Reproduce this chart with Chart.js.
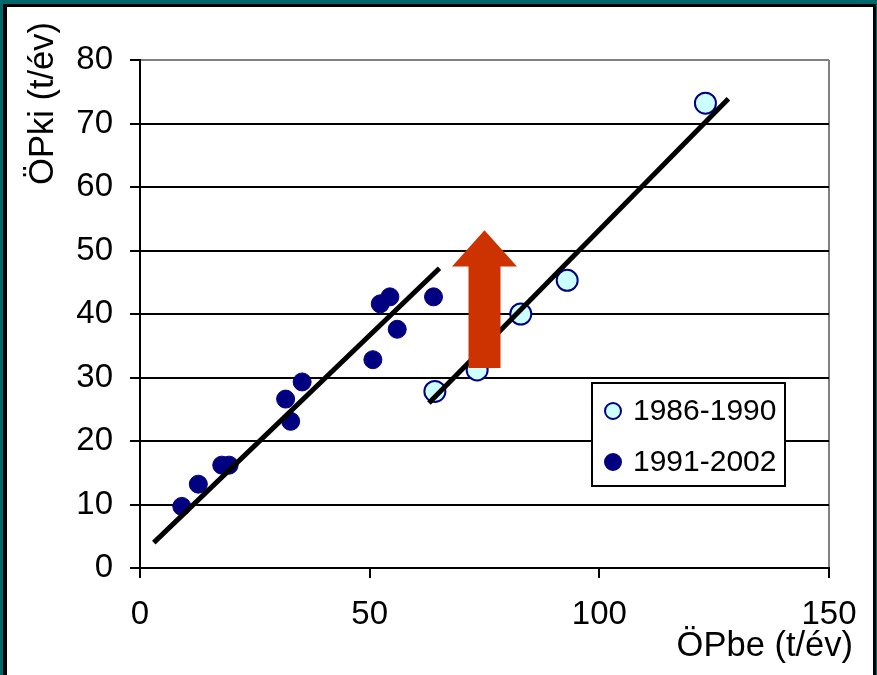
<!DOCTYPE html>
<html>
<head>
<meta charset="utf-8">
<script src="https://cdn.jsdelivr.net/npm/chart.js@4/dist/chart.umd.min.js"></script>
<style>
  html, body { margin: 0; padding: 0; background: #00686a; }
  #wrap { width: 877px; height: 675px; position: relative; }
</style>
</head>
<body>
<div id="wrap"><canvas id="chart" width="877" height="675"></canvas></div>
<script>
// 1986-1990 (light points)
const x_1986 = [64.2, 73.4, 82.9, 93.0, 123.1]
const y_1986 = [27.8, 31.2, 40.0, 45.3, 73.2]

// 1991-2002 (dark points)
const x_1991 = [9.1, 12.7, 17.8, 19.4, 31.7, 32.8, 35.3, 50.7, 52.3, 54.4, 56.0, 63.9]
const y_1991 = [9.7, 13.2, 16.2, 16.2, 26.6, 23.1, 29.3, 32.8, 41.6, 42.7, 37.6, 42.7]

// trend lines (end points)
const trend1_x = [3.0, 65.2]
const trend1_y = [4.0, 47.2]
const trend2_x = [62.9, 128.1]
const trend2_y = [26.0, 73.9]

// arrow: x position, from -> to (y values)
const arrow_x = 75
const arrow_y = [31.5, 47.5, 53.2]

const series_labels = ['1986-1990', '1991-2002']
const x_ticks = [0, 50, 100, 150]
const y_ticks = [0, 10, 20, 30, 40, 50, 60, 70, 80]

const FONT = '"Liberation Sans", Arial, sans-serif'

function toPoints(xs, ys) {
    return xs.map((x, i) => ({ x: x, y: ys[i] }))
}

const frame = {
    id: 'frame',
    beforeDraw(chart) {
        const c = chart.ctx
        c.save()
        c.fillStyle = '#00686a'
        c.fillRect(0, 0, 877, 675)
        c.fillStyle = '#000'
        c.fillRect(3, 4, 873, 675)
        c.fillStyle = '#fff'
        c.fillRect(7, 7, 866, 675)
        c.restore()
    }
}

const extras = {
    id: 'extras',
    afterDatasetsDraw(chart) {
        const c = chart.ctx
        const xs = chart.scales.x, ys = chart.scales.y
        // arrow
        const cx = xs.getPixelForValue(arrow_x)
        const yb = ys.getPixelForValue(arrow_y[0])
        const yh = ys.getPixelForValue(arrow_y[1])
        const yt = ys.getPixelForValue(arrow_y[2])
        c.save()
        c.fillStyle = '#cc3300'
        c.beginPath()
        c.moveTo(cx - 16, yb)
        c.lineTo(cx - 16, yh)
        c.lineTo(cx - 32.5, yh)
        c.lineTo(cx, yt)
        c.lineTo(cx + 32.5, yh)
        c.lineTo(cx + 16, yh)
        c.lineTo(cx + 16, yb)
        c.closePath()
        c.fill()
        c.restore()
    },
    afterDraw(chart) {
        const c = chart.ctx
        const a = chart.chartArea
        c.save()
        // legend box
        const lx = a.right - 237, ly = a.top + 323
        c.fillStyle = '#fff'
        c.fillRect(lx, ly, 193, 103)
        c.strokeStyle = '#000'
        c.lineWidth = 2
        c.strokeRect(lx, ly, 193, 103)
        const sets = [chart.data.datasets[0], chart.data.datasets[1]]
        c.font = '30px ' + FONT
        c.textBaseline = 'middle'
        sets.forEach((ds, i) => {
            const my = ly + 28 + i * 51
            c.beginPath()
            c.arc(lx + 21, my, 8, 0, Math.PI * 2)
            c.fillStyle = ds.backgroundColor
            c.fill()
            c.lineWidth = 2
            c.strokeStyle = ds.borderColor
            c.stroke()
            c.fillStyle = '#000'
            c.fillText(series_labels[i], lx + 41, my + 1)
        })
        // axis titles
        c.font = '34.5px ' + FONT
        c.fillStyle = '#000'
        c.textAlign = 'right'
        c.textBaseline = 'alphabetic'
        c.fillText('ÖPbe (t/év)', 853, 656)
        c.translate(53, 22)
        c.rotate(-Math.PI / 2)
        c.textAlign = 'right'
        c.fillText('ÖPki (t/év)', 0, 0)
        c.restore()
    }
}

const ctx = document.getElementById('chart')

new Chart(ctx, {
    type: 'scatter',
    data: {
        datasets: [
            {
                label: series_labels[0],
                data: toPoints(x_1986, y_1986),
                backgroundColor: '#ccffff',
                borderColor: '#000080',
                borderWidth: 2,
                pointRadius: 10.5,
                order: 2
            },
            {
                label: series_labels[1],
                data: toPoints(x_1991, y_1991),
                backgroundColor: '#000080',
                borderColor: '#000080',
                borderWidth: 1,
                pointRadius: 9,
                order: 2
            },
            {
                type: 'line',
                data: toPoints(trend1_x, trend1_y),
                borderColor: '#000',
                borderWidth: 5,
                pointRadius: 0,
                fill: false,
                order: 1
            },
            {
                type: 'line',
                data: toPoints(trend2_x, trend2_y),
                borderColor: '#000',
                borderWidth: 5,
                pointRadius: 0,
                fill: false,
                order: 1
            }
        ]
    },
    options: {
        responsive: false,
        animation: false,
        events: [],
        layout: { padding: { left: 0, right: 48, top: 60, bottom: 0 } },
        plugins: {
            legend: { display: false },
            tooltip: { enabled: false }
        },
        scales: {
            x: {
                type: 'linear',
                min: 0,
                max: 150,
                afterBuildTicks: (s) => { s.ticks = x_ticks.map(v => ({ value: v })) },
                afterFit: (s) => { s.height = 107 },
                ticks: { font: { size: 33, family: FONT }, color: '#000', padding: 17 },
                grid: {
                    color: (c) => c.tick && c.tick.value === 150 ? '#808080' : 'rgba(0,0,0,0)',
                    tickColor: '#000',
                    tickLength: 10,
                    lineWidth: 2
                },
                border: { color: '#000', width: 2 }
            },
            y: {
                type: 'linear',
                min: 0,
                max: 80,
                afterBuildTicks: (s) => { s.ticks = y_ticks.map(v => ({ value: v })) },
                afterFit: (s) => { s.width = 140 },
                ticks: { font: { size: 33, family: FONT }, color: '#000', padding: 17 },
                grid: {
                    color: (c) => c.tick && c.tick.value === 80 ? '#808080' : '#000',
                    tickColor: '#000',
                    tickLength: 10,
                    lineWidth: 2
                },
                border: { color: '#000', width: 2 }
            }
        }
    },
    plugins: [frame, extras]
})
</script>
</body>
</html>
